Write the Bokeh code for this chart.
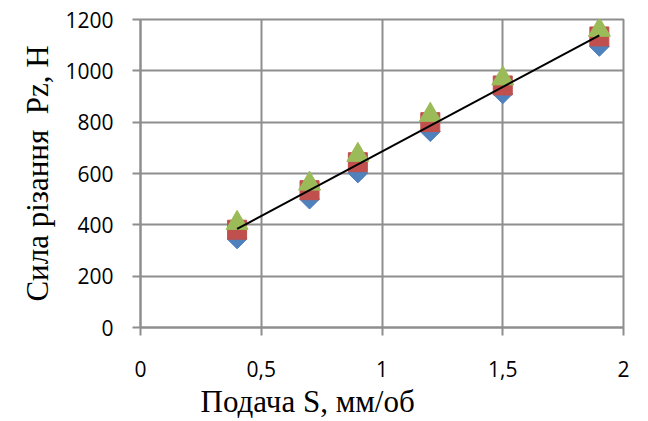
import numpy as np
from bokeh.plotting import figure
from bokeh.models import FixedTicker, Title, Range1d
from bokeh.embed import file_html
from bokeh.resources import INLINE

# Data
feed = [0.4, 0.7, 0.9, 1.2, 1.5, 1.9]
series_blue = [345, 500, 602, 763, 910, 1095]
series_red = [381, 535, 644, 800, 943, 1134]
series_green = [407, 560, 672, 828, 970, 1159]

x_ticks = [0, 0.5, 1, 1.5, 2]
x_tick_labels = ["0", "0,5", "1", "1,5", "2"]
y_ticks = [0, 200, 400, 600, 800, 1000, 1200]

x_title = "Подача S, мм/об"
y_title = "Сила різання \u00a0Pz, Н"

GRID = "#8e8e8e"

p = figure(width=648, height=421, output_backend="svg", toolbar_location=None,
           x_range=Range1d(0, 2), y_range=Range1d(0, 1200),
           min_border_left=140, min_border_right=25, min_border_top=19, min_border_bottom=94)
p.background_fill_color = "white"
p.border_fill_color = "white"
p.outline_line_color = GRID
p.outline_line_width = 2

for ax in (p.xaxis[0], p.yaxis[0]):
    ax.axis_line_color = GRID
    ax.axis_line_width = 2
    ax.major_tick_line_color = GRID
    ax.major_tick_line_width = 2
    ax.major_tick_out = 8
    ax.major_tick_in = 0
    ax.minor_tick_line_color = None
    ax.major_label_text_font = "Open Sans"
    ax.major_label_text_font_size = "21px"
    ax.major_label_text_color = "black"

p.xaxis[0].ticker = FixedTicker(ticks=x_ticks)
p.xaxis[0].major_label_overrides = {t: l for t, l in zip(x_ticks, x_tick_labels)}
p.xaxis[0].major_label_standoff = 25
p.yaxis[0].ticker = FixedTicker(ticks=y_ticks)
p.yaxis[0].major_label_standoff = 19

p.xgrid.grid_line_color = GRID
p.xgrid.grid_line_width = 2
p.ygrid.grid_line_color = GRID
p.ygrid.grid_line_width = 2

p.add_layout(Title(text=x_title, align="left", offset=60, text_font="Liberation Serif",
                   text_font_size="31px", text_font_style="normal", text_color="black",
                   standoff=4), "below")
p.add_layout(Title(text=y_title, align="center", offset=-6, text_font="Liberation Serif",
                   text_font_size="31px", text_font_style="normal", text_color="black",
                   standoff=15), "left")

p.scatter(feed, series_blue, marker="square", angle=np.pi / 4, size=14,
          fill_color="#4F81BD", line_color="#4F81BD")
p.scatter(feed, series_red, marker="square", size=19,
          fill_color="#C0504D", line_color="#C0504D")
p.scatter(feed, series_green, marker="triangle", size=22,
          fill_color="#9BBB59", line_color="#9BBB59")

# Linear trend line fitted to all series
xs_all = np.array(feed * 3)
ys_all = np.array(series_blue + series_red + series_green)
k, b = np.polyfit(xs_all, ys_all, 1)
tx = np.array([min(feed), max(feed)])
p.line(tx, k * tx + b, line_color="black", line_width=2)

open("out.html", "w").write(file_html(p, INLINE))
